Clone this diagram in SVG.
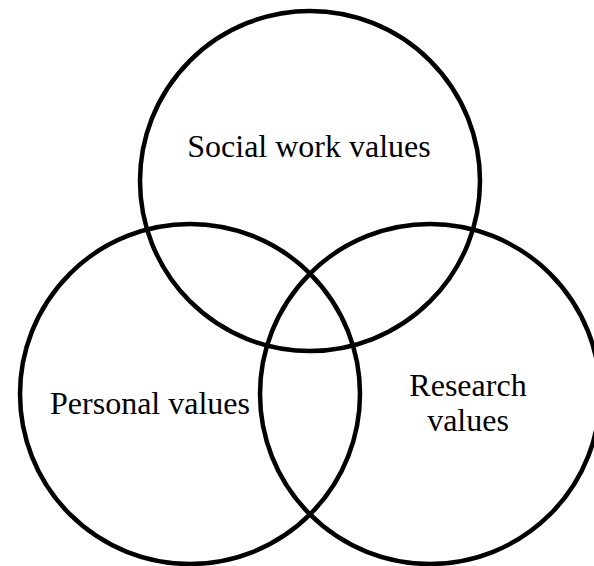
<svg xmlns="http://www.w3.org/2000/svg" width="594" height="566" viewBox="0 0 594 566">
<style>
.c{fill:none;stroke:#000;stroke-width:4.5}
.t{font-family:"Liberation Serif","Times New Roman",serif;font-size:32px;fill:#000;text-anchor:middle}
</style>
<rect width="594" height="566" fill="#fff"/>
<g id="social">
<circle class="c" cx="310" cy="181" r="170"/>
<text class="t" x="309" y="157">Social work values</text>
</g>
<g id="personal">
<circle class="c" cx="190" cy="394" r="170"/>
<text class="t" x="150" y="414">Personal values</text>
</g>
<g id="research">
<circle class="c" cx="430" cy="394" r="170"/>
<text class="t" x="468" y="396">Research</text>
<text class="t" x="468" y="431">values</text>
</g>
<g id="connectors"/>
</svg>
